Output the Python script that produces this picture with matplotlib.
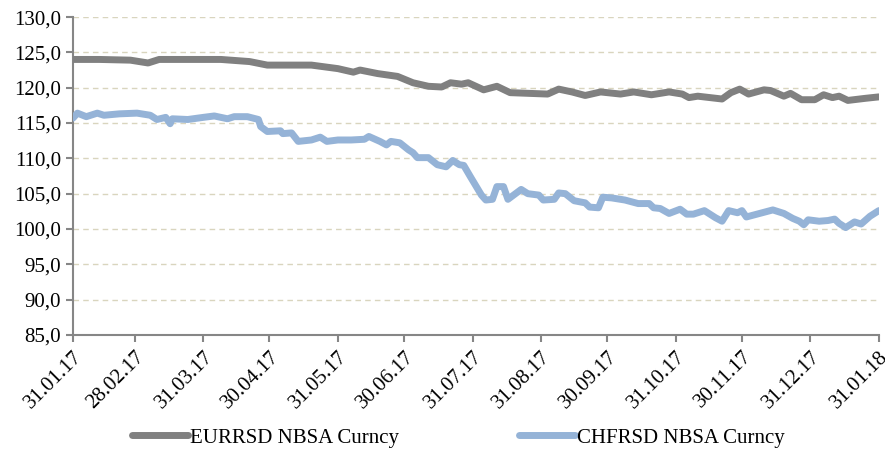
import pandas as pd
import matplotlib
matplotlib.use("Agg")
import matplotlib.pyplot as plt
import matplotlib.dates as mdates
from matplotlib import font_manager
from matplotlib.ticker import FuncFormatter

# EURRSD NBSA Curncy
eur_dates = [
    "2017-01-31", "2017-02-12", "2017-02-26", "2017-03-06", "2017-03-11",
    "2017-04-08", "2017-04-21", "2017-04-29", "2017-05-19", "2017-05-31",
    "2017-06-07", "2017-06-10", "2017-06-18", "2017-06-27", "2017-07-04",
    "2017-07-11", "2017-07-17", "2017-07-21", "2017-07-26", "2017-07-29",
    "2017-08-05", "2017-08-11", "2017-08-17", "2017-09-03", "2017-09-08",
    "2017-09-14", "2017-09-20", "2017-09-27", "2017-10-06", "2017-10-12",
    "2017-10-20", "2017-10-28", "2017-11-03", "2017-11-06", "2017-11-10",
    "2017-11-21", "2017-11-25", "2017-11-29", "2017-12-03", "2017-12-10",
    "2017-12-13", "2017-12-19", "2017-12-22", "2017-12-27", "2018-01-02",
    "2018-01-06", "2018-01-10", "2018-01-13", "2018-01-17", "2018-01-25",
    "2018-01-31",
]
eur_values = [
    124.0, 124.0, 123.9, 123.5, 124.0,
    124.0, 123.7, 123.2, 123.2, 122.7,
    122.2, 122.5, 122.0, 121.6, 120.7,
    120.2, 120.1, 120.7, 120.5, 120.7,
    119.7, 120.2, 119.3, 119.1, 119.8,
    119.4, 118.9, 119.4, 119.1, 119.4,
    119.0, 119.4, 119.1, 118.6, 118.8,
    118.4, 119.3, 119.8, 119.1, 119.7,
    119.6, 118.8, 119.2, 118.3, 118.3,
    119.0, 118.6, 118.8, 118.2, 118.5,
    118.7,
]

# CHFRSD NBSA Curncy
chf_dates = [
    "2017-01-31", "2017-02-02", "2017-02-06", "2017-02-11", "2017-02-14",
    "2017-02-21", "2017-03-01", "2017-03-07", "2017-03-10", "2017-03-14",
    "2017-03-16", "2017-03-17", "2017-03-24", "2017-03-31", "2017-04-05",
    "2017-04-11", "2017-04-14", "2017-04-20", "2017-04-25", "2017-04-26",
    "2017-04-29", "2017-05-05", "2017-05-06", "2017-05-10", "2017-05-13",
    "2017-05-19", "2017-05-23", "2017-05-26", "2017-05-31", "2017-06-06",
    "2017-06-12", "2017-06-14", "2017-06-19", "2017-06-22", "2017-06-24",
    "2017-06-28", "2017-07-02", "2017-07-04", "2017-07-06", "2017-07-11",
    "2017-07-15", "2017-07-19", "2017-07-22", "2017-07-25", "2017-07-27",
    "2017-07-30", "2017-08-04", "2017-08-06", "2017-08-09", "2017-08-11",
    "2017-08-14", "2017-08-16", "2017-08-22", "2017-08-25", "2017-08-30",
    "2017-09-01", "2017-09-06", "2017-09-08", "2017-09-11", "2017-09-15",
    "2017-09-20", "2017-09-22", "2017-09-26", "2017-09-28", "2017-10-02",
    "2017-10-08", "2017-10-14", "2017-10-19", "2017-10-21", "2017-10-24",
    "2017-10-28", "2017-11-02", "2017-11-05", "2017-11-08", "2017-11-13",
    "2017-11-18", "2017-11-21", "2017-11-24", "2017-11-28", "2017-11-30",
    "2017-12-02", "2017-12-08", "2017-12-14", "2017-12-19", "2017-12-23",
    "2017-12-26", "2017-12-28", "2017-12-30", "2018-01-04", "2018-01-08",
    "2018-01-11", "2018-01-13", "2018-01-16", "2018-01-20", "2018-01-23",
    "2018-01-27", "2018-01-31",
]
chf_values = [
    115.7, 116.4, 115.9, 116.4, 116.1,
    116.3, 116.4, 116.1, 115.5, 115.8,
    114.9, 115.6, 115.5, 115.8, 116.0,
    115.6, 115.9, 115.9, 115.5, 114.5,
    113.8, 113.9, 113.5, 113.6, 112.4,
    112.6, 113.0, 112.4, 112.6, 112.6,
    112.7, 113.1, 112.4, 111.9, 112.4,
    112.2, 111.2, 110.8, 110.1, 110.1,
    109.1, 108.8, 109.7, 109.1, 109.0,
    107.4, 104.8, 104.1, 104.2, 106.0,
    106.0, 104.2, 105.6, 105.0, 104.8,
    104.1, 104.2, 105.1, 105.0, 104.0,
    103.7, 103.1, 103.0, 104.5, 104.4,
    104.1, 103.6, 103.6, 103.0, 102.9,
    102.2, 102.8, 102.1, 102.1, 102.6,
    101.6, 101.1, 102.6, 102.3, 102.6,
    101.7, 102.2, 102.7, 102.2, 101.5,
    101.1, 100.6, 101.3, 101.1, 101.2,
    101.4, 100.8, 100.2, 101.0, 100.7,
    101.8, 102.6,
]

tick_dates = pd.date_range("2017-01-31", "2018-01-31", freq="ME")

# look the serif font file up directly
serif_name = "DejaVu Serif"
for path in font_manager.findSystemFonts():
    if "LiberationSerif-Regular" in path:
        font_manager.fontManager.addfont(path)
        serif_name = font_manager.FontProperties(fname=path).get_name()
        break
plt.rcParams["font.family"] = [serif_name, "DejaVu Serif"]
plt.rcParams["font.size"] = 15

fig = plt.figure(figsize=(8.85, 4.49), dpi=100)
ax = fig.add_axes([0.0825, 0.254, 0.9105, 0.708])

ax.plot(pd.to_datetime(eur_dates), eur_values, color="#808080", lw=5,
        solid_capstyle="round", solid_joinstyle="round",
        label="EURRSD NBSA Curncy", zorder=3)
ax.plot(pd.to_datetime(chf_dates), chf_values, color="#95B3D7", lw=5,
        solid_capstyle="round", solid_joinstyle="round",
        label="CHFRSD NBSA Curncy", zorder=3)

ax.set_ylim(85, 130)
ax.set_yticks(range(85, 131, 5))
ax.yaxis.set_major_formatter(FuncFormatter(lambda v, p: f"{v:.1f}".replace(".", ",")))
ax.set_xlim(pd.Timestamp("2017-01-31"), pd.Timestamp("2018-01-31"))
ax.set_xticks(tick_dates)
ax.xaxis.set_major_formatter(mdates.DateFormatter("%d.%m.%y"))
for lbl in ax.get_xticklabels():
    lbl.set_rotation(45)
    lbl.set_ha("right")
    lbl.set_rotation_mode("anchor")

ax.grid(axis="y", color="#D9D5BE", linestyle=(0, (4, 3)), linewidth=1)
ax.set_axisbelow(True)
for s in ["top", "right"]:
    ax.spines[s].set_visible(False)
for s in ["left", "bottom"]:
    ax.spines[s].set_color("#868686")
    ax.spines[s].set_linewidth(1.5)
ax.tick_params(axis="both", colors="#868686", length=5, width=1.5,
               labelcolor="black", labelsize=15)
ax.tick_params(axis="x", pad=4)

fig.legend(loc="center", bbox_to_anchor=(0.518, 0.025), ncol=2,
           frameon=False, handlelength=2.65, handletextpad=0.1,
           columnspacing=5.8, fontsize=15)

plt.savefig("out.png", dpi=100)
